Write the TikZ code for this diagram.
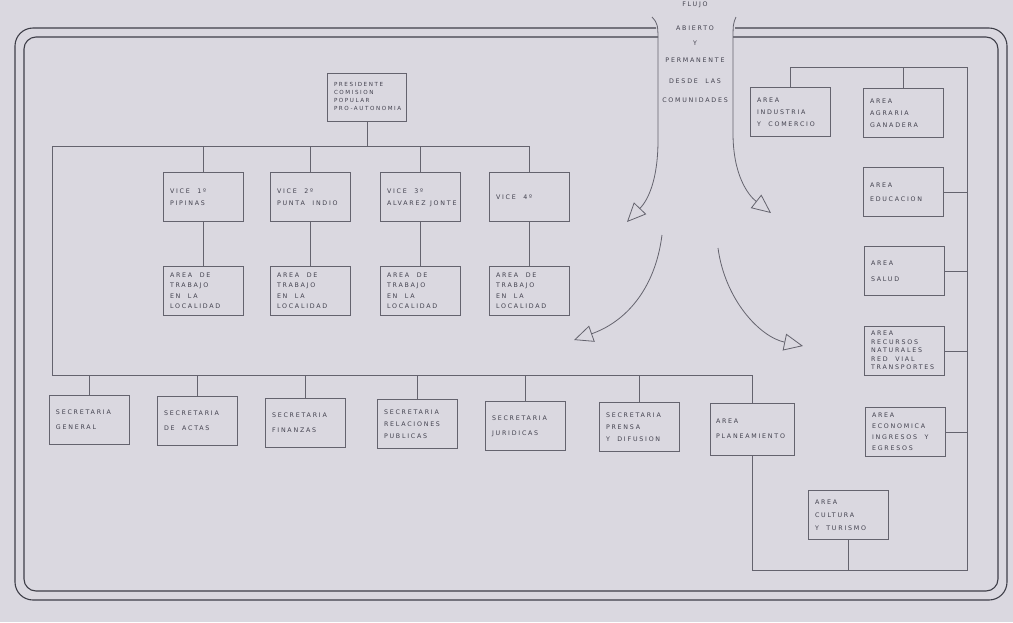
\documentclass[tikz,border=0pt]{standalone}
\usepackage{fontspec}
\usetikzlibrary{arrows.meta}
\newfontfamily\letras[LetterSpace=28]{DejaVu Sans}
\definecolor{papel}{RGB}{218,216,224}
\definecolor{linea}{RGB}{100,99,110}
\definecolor{marco}{RGB}{62,62,72}
\definecolor{tinta}{RGB}{66,65,78}
\newcommand\rotulo[2][66pt]{\makebox[#1][l]{\begin{tabular}{@{}l@{}}#2\end{tabular}}}

\begin{document}
\begin{tikzpicture}[x=1pt,y=-1pt,
    caja/.style={draw=linea, line width=0.7pt, minimum width=80pt, minimum height=49pt,
      inner sep=0pt, text=tinta, font=\letras\fontsize{6.3}{12}\selectfont},
    flujo/.style={text=tinta, inner sep=0pt, font=\letras\fontsize{6.3}{12}\selectfont},
    conector/.style={draw=linea, line width=0.7pt},
    borde/.style={draw=marco, line width=1.1pt},
    flecha/.style={draw=linea, line width=0.8pt, -{Triangle[open,length=19pt,width=17pt]}}]
    \fill[papel] (0,0) rectangle (1013,622);
    \useasboundingbox (0,0) rectangle (1013,622);

    \draw[borde, rounded corners=18pt] (656,28) -- (15,28) -- (15,600) -- (1007,600) -- (1007,28) -- (735,28);
    \draw[borde, rounded corners=12pt] (658,37) -- (24,37) -- (24,591) -- (998,591) -- (998,37) -- (733,37);

    \foreach \t/\y [count=\i] in {FLUJO/5, ABIERTO/28, Y/43, PERMANENTE/60, {DESDE \ LAS}/81, COMUNIDADES/100}
        \node[flujo] (f\i) at (695,\y) {\t};

    \coordinate (fi) at (652,17);
    \coordinate (fd) at (736,17);
    \draw[flecha] (fi) .. controls (658,24) .. (658,45) -- (658,140) .. controls (658,180) and (648,200) .. (627,222);
    \draw[flecha] (fd) .. controls (733,24) .. (733,45) -- (733,133) .. controls (733,175) and (748,195) .. (771,213);
    \coordinate (gi) at (662,235);
    \coordinate (gd) at (718,248);
    \draw[flecha] (gi) .. controls (655,290) and (625,322) .. (574,340);
    \draw[flecha] (gd) .. controls (725,300) and (760,337) .. (803,346);

    \node[caja, minimum width=79pt, minimum height=48pt, font=\letras\fontsize{5.6}{8}\selectfont] (pres) at (367,97)
        {\rotulo{PRESIDENTE\\COMISION\\POPULAR\\PRO-AUTONOMIA}};

    \foreach \i/\x/\txt in {1/203/{VICE \ 1º\\PIPINAS}, 2/310/{VICE \ 2º\\PUNTA \ INDIO}, 3/420/{VICE \ 3º\\ALVAREZ\kern4.5pt JONTE}, 4/529/{VICE \ 4º\\ }} {
        \node[caja] (v\i) at (\x,197) {\rotulo{\txt}};
        \node[caja, font=\letras\fontsize{6.3}{10.5}\selectfont] (t\i) at (\x,291) {\rotulo{AREA \ DE\\TRABAJO\\EN \ LA\\LOCALIDAD}};
        \draw[conector] (v\i) -- (t\i);
    }

    \coordinate (busV) at (52,146);
    \coordinate (busS) at (52,375);
    \draw[conector] (v4.north) |- (busV) -- (busS);
    \draw[conector] (pres.south) -- (pres.south |- busV);
    \foreach \i in {1,2,3}
        \draw[conector] (v\i.north) -- (v\i.north |- busV);

    \foreach \i/\x/\y/\txt in {1/89/420/{SECRETARIA\\[3pt]GENERAL}, 2/197/421/{SECRETARIA\\[3pt]DE \ ACTAS},
        3/305/423/{SECRETARIA\\[3pt]FINANZAS}, 4/417/424/{SECRETARIA\\RELACIONES\\PUBLICAS},
        5/525/426/{SECRETARIA\\[3pt]JURIDICAS}, 6/639/427/{SECRETARIA\\PRENSA\\Y \ DIFUSION}}
        \node[caja] (s\i) at (\x,\y) {\rotulo{\txt}};
    \node[caja, minimum width=84pt, minimum height=52pt] (s7) at (752,429) {\rotulo[72pt]{AREA\\[3pt]PLANEAMIENTO}};
    \draw[conector] (busS) -| (s7.north);
    \foreach \i in {1,...,6}
        \draw[conector] (s\i.north) -- (s\i.north |- busS);

    \node[caja] (ind) at (790,112) {\rotulo{AREA\\INDUSTRIA\\Y \ COMERCIO}};
    \node[caja] (agr) at (903,113) {\rotulo{AREA\\AGRARIA\\GANADERA}};
    \node[caja] (edu) at (903,192) {\rotulo{AREA\\[2pt]EDUCACION}};
    \node[caja] (sal) at (904,271) {\rotulo{AREA\\[4pt]SALUD}};
    \node[caja, font=\letras\fontsize{6.3}{8.5}\selectfont] (rec) at (904,351) {\rotulo{AREA\\RECURSOS\\NATURALES\\RED \ VIAL\\TRANSPORTES}};
    \node[caja, font=\letras\fontsize{6.3}{11}\selectfont] (eco) at (905,432) {\rotulo{AREA\\ECONOMICA\\INGRESOS \ Y\\EGRESOS}};
    \node[caja, font=\letras\fontsize{6.3}{13}\selectfont] (cul) at (848,515) {\rotulo{AREA\\CULTURA\\Y \ TURISMO}};

    \coordinate (der) at (967,67);
    \coordinate (derB) at (967,570);
    \draw[conector] (ind.north) |- (der) -- (derB) -| (s7.south);
    \draw[conector] (agr.north) -- (agr.north |- der);
    \foreach \n in {edu,sal,rec,eco}
        \draw[conector] (\n.east) -- (\n.east -| der);
    \draw[conector] (cul.south) -- (cul.south |- derB);
\end{tikzpicture}
\end{document}
